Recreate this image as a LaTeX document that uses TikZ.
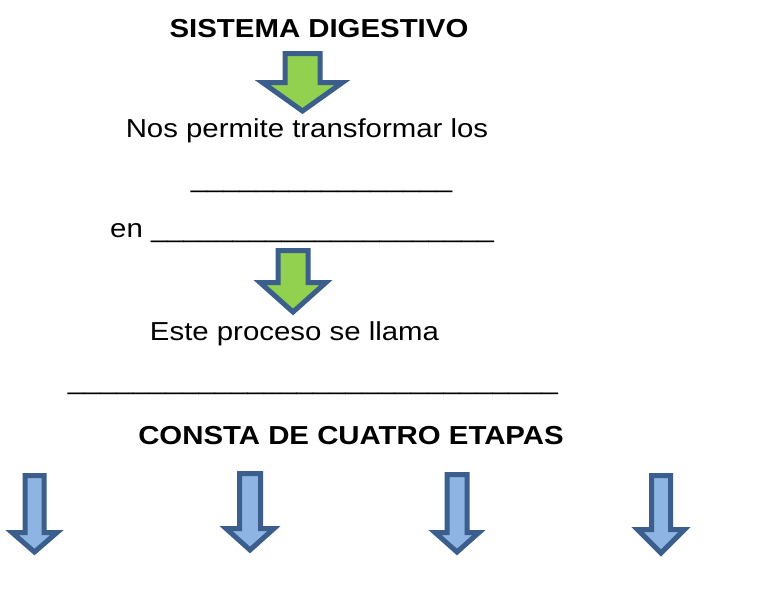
\documentclass[tikz,border=0pt]{standalone}
\usepackage{fontspec}
\usepackage{graphicx}
\setmainfont{Liberation Sans}
\definecolor{arrowedge}{HTML}{3B5E8C}
\definecolor{greenfill}{HTML}{92D050}
\definecolor{bluefill}{HTML}{8EB4E3}
\newcommand{\stretchtext}[1]{\scalebox{1.13}[1]{#1}}
\newcommand{\blkarrow}[7]{%
  \draw[#7] ({#1-#3},#2) -- ({#1+#3},#2) -- ({#1+#3},#5) -- ({#1+#4},#5)
    -- (#1,#6) -- ({#1-#4},#5) -- ({#1-#3},#5) -- cycle;}
\tikzset{
  txt/.style={inner sep=0pt, anchor=base, font=\fontsize{26}{30}\selectfont, text=black},
  bold/.style={txt, font=\fontsize{26}{30}\selectfont\bfseries},
  greenarrow/.style={draw=arrowedge, fill=greenfill, line width=5pt, line join=miter},
  bluearrow/.style={draw=arrowedge, fill=bluefill, line width=5pt, line join=miter},
}
\begin{document}
\begin{tikzpicture}[x=1pt,y=-1pt]
\useasboundingbox (0,0) rectangle (779,592);
% texts
\node[bold] (title) at (319,37) {\stretchtext{SISTEMA DIGESTIVO}};
\node[txt] (nos) at (307,137) {\stretchtext{Nos permite transformar los}};
\node[txt] (blank1) at (321.5,187) {\stretchtext{\_\_\_\_\_\_\_\_\_\_\_\_\_\_\_\_}};
\node[txt, anchor=base west] (en) at (110,237) {\stretchtext{en \_\_\_\_\_\_\_\_\_\_\_\_\_\_\_\_\_\_\_\_\_}};
\node[txt] (este) at (294.5,340) {\stretchtext{Este proceso se llama}};
\node[txt] (blank2) at (313,389) {\stretchtext{\_\_\_\_\_\_\_\_\_\_\_\_\_\_\_\_\_\_\_\_\_\_\_\_\_\_\_\_\_\_}};
\node[bold] (consta) at (351,444) {\stretchtext{CONSTA DE CUATRO ETAPAS}};
% green arrows
\blkarrow{302.5}{53.5}{17.5}{40}{82.5}{111}{greenarrow}
\blkarrow{293}{250.5}{15}{33}{282.5}{312}{greenarrow}
% blue arrows
\blkarrow{34.5}{475.5}{9.5}{22.5}{532.5}{552}{bluearrow}
\blkarrow{250}{473.5}{10.5}{24}{528.5}{550}{bluearrow}
\blkarrow{457}{474.5}{10}{22}{532.5}{552}{bluearrow}
\blkarrow{661}{475.5}{9.5}{23.5}{529.5}{553}{bluearrow}
\end{tikzpicture}
\end{document}
